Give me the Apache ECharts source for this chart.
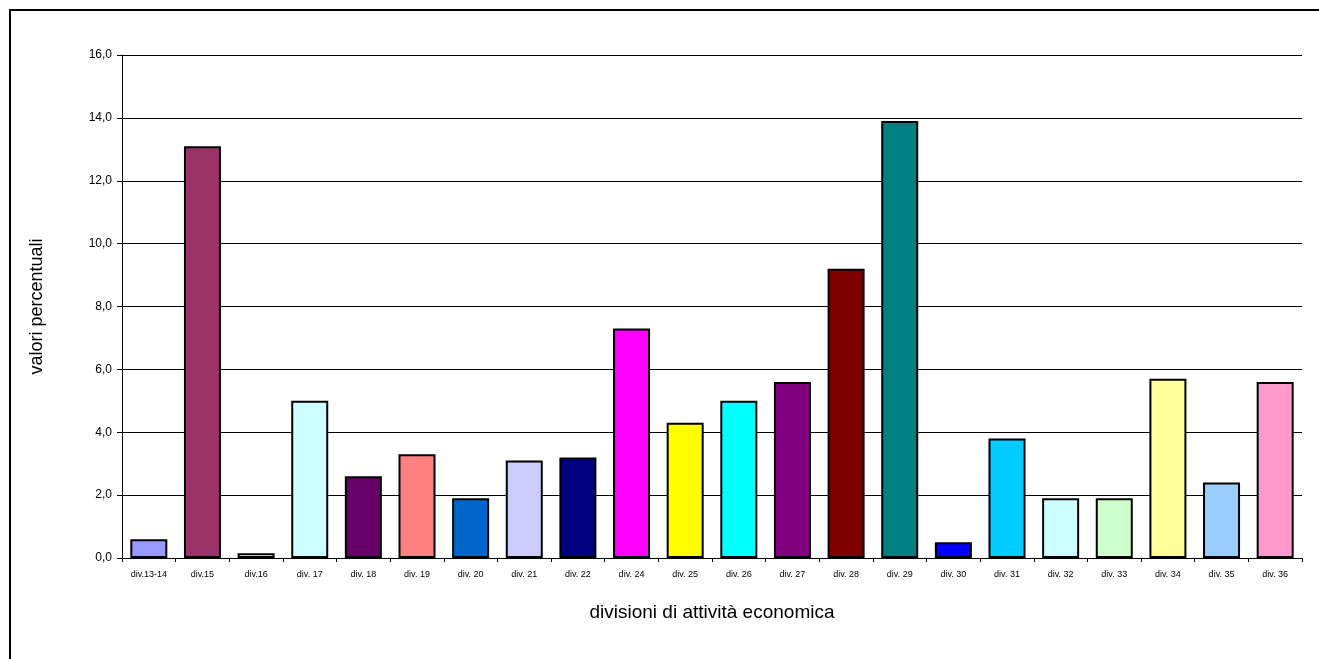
<!DOCTYPE html>
<html lang="it">
<head>
<meta charset="UTF-8">
<title>divisioni di attività economica</title>
<style>
  html, body { margin: 0; padding: 0; background: #fff; }
  #main { width: 1319px; height: 659px; }
</style>
</head>
<body>
<div id="main"></div>
<script src="https://cdn.jsdelivr.net/npm/echarts@6/dist/echarts.min.js"></script>
<script>
var categories = ['div.13-14', 'div.15', 'div.16', 'div. 17', 'div. 18', 'div. 19', 'div. 20', 'div. 21',
    'div. 22', 'div. 24', 'div. 25', 'div. 26', 'div. 27', 'div. 28', 'div. 29', 'div. 30',
    'div. 31', 'div. 32', 'div. 33', 'div. 34', 'div. 35', 'div. 36'];
var values = [0.6, 13.1, 0.15, 5.0, 2.6, 3.3, 1.9, 3.1, 3.2, 7.3, 4.3, 5.0, 5.6, 9.2, 13.9, 0.5,
    3.8, 1.9, 1.9, 5.7, 2.4, 5.6];
var barColors = ['#9999FF', '#993366', '#FFFFCC', '#CCFFFF', '#660066', '#FF8080', '#0066CC', '#CCCCFF',
    '#000080', '#FF00FF', '#FFFF00', '#00FFFF', '#800080', '#800000', '#008080', '#0000FF',
    '#00CCFF', '#CCFFFF', '#CCFFCC', '#FFFF99', '#99CCFF', '#FF99CC'];
var yTicks = [0, 2, 4, 6, 8, 10, 12, 14, 16];

var font = 'Arial, "Liberation Sans", sans-serif';
var myChart = echarts.init(document.getElementById('main'));

var barData = [];
for (var i = 0; i < values.length; i ++) {
    barData.push({
        value: values[i],
        itemStyle: { color: barColors[i] }
    });
}

var option = {
    animation: false,
    backgroundColor: '#fff',
    graphic: [{
        type: 'rect',
        shape: { x: 10, y: 10, width: 1400, height: 700 },
        style: { fill: 'none', stroke: '#000', lineWidth: 2 },
        silent: true
    }],
    grid: {
        left: 122,
        top: 55,
        width: 1180,
        height: 503
    },
    xAxis: {
        type: 'category',
        data: categories,
        name: 'divisioni di attività economica',
        nameLocation: 'middle',
        nameGap: 45,
        nameTextStyle: { fontFamily: font, fontSize: 19, color: '#000' },
        axisLine: { lineStyle: { color: '#000', width: 1 } },
        axisTick: { show: true, length: 4, lineStyle: { color: '#000' } },
        axisLabel: { fontFamily: font, fontSize: 9, color: '#000', margin: 12, interval: 0 }
    },
    yAxis: {
        type: 'value',
        min: yTicks[0],
        max: yTicks[yTicks.length - 1],
        interval: 2,
        name: 'valori percentuali',
        nameLocation: 'middle',
        nameGap: 76,
        nameTextStyle: { fontFamily: font, fontSize: 18, color: '#000' },
        axisLine: { show: true, lineStyle: { color: '#000', width: 1 } },
        axisTick: { show: true, length: 5, lineStyle: { color: '#000' } },
        axisLabel: {
            fontFamily: font, fontSize: 12, color: '#000', margin: 10,
            formatter: function (v) { return v.toFixed(1).replace('.', ','); }
        },
        splitLine: { show: true, lineStyle: { color: '#000', width: 1 } }
    },
    series: [{
        type: 'bar',
        data: barData,
        barCategoryGap: '31%',
        itemStyle: { borderColor: '#000', borderWidth: 2 }
    }]
};

myChart.setOption(option);
</script>
</body>
</html>
